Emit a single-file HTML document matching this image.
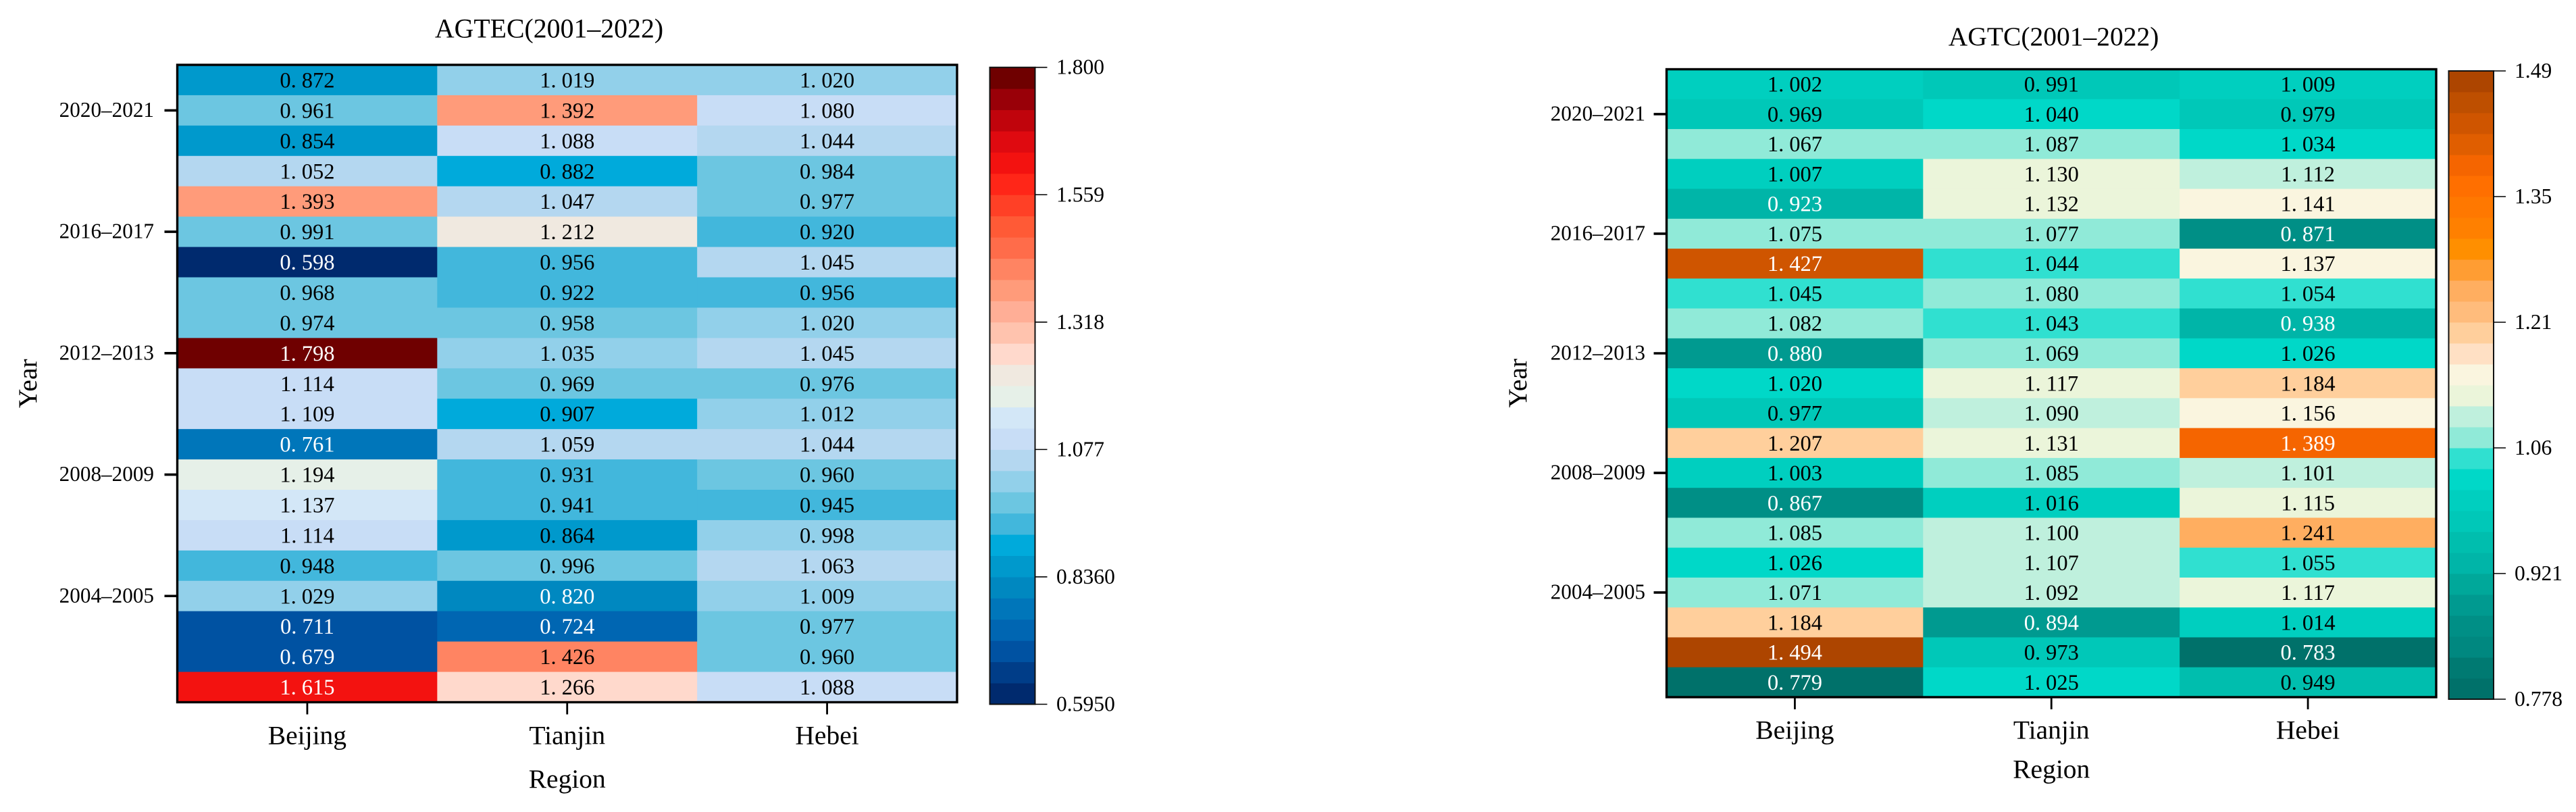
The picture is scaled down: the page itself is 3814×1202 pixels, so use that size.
<!DOCTYPE html>
<html lang="en">
<head>
<meta charset="utf-8">
<title>AGTEC and AGTC heatmaps (2001–2022)</title>
<style>
html,body{margin:0;padding:0;background:#fff;}
svg{display:block;}
text{font-family:"Liberation Serif","Times New Roman",serif;fill:#000;}
</style>
</head>
<body>
<svg id="figure" xmlns="http://www.w3.org/2000/svg" width="3814" height="1202" viewBox="0 0 3814 1202">
<rect x="0" y="0" width="3814" height="1202" fill="#ffffff"/>
</svg>
<script>
const regions = ['Beijing', 'Tianjin', 'Hebei'];
const yearRows = ['2021–2022','2020–2021','2019–2020','2018–2019','2017–2018','2016–2017','2015–2016','2014–2015','2013–2014','2012–2013','2011–2012','2010–2011','2009–2010','2008–2009','2007–2008','2006–2007','2005–2006','2004–2005','2003–2004','2002–2003','2001–2002'];

const agtecBeijing = [0.872,0.961,0.854,1.052,1.393,0.991,0.598,0.968,0.974,1.798,1.114,1.109,0.761,1.194,1.137,1.114,0.948,1.029,0.711,0.679,1.615];
const agtecTianjin = [1.019,1.392,1.088,0.882,1.047,1.212,0.956,0.922,0.958,1.035,0.969,0.907,1.059,0.931,0.941,0.864,0.996,0.820,0.724,1.426,1.266];
const agtecHebei = [1.020,1.080,1.044,0.984,0.977,0.920,1.045,0.956,1.020,1.045,0.976,1.012,1.044,0.960,0.945,0.998,1.063,1.009,0.977,0.960,1.088];

const agtcBeijing = [1.002,0.969,1.067,1.007,0.923,1.075,1.427,1.045,1.082,0.880,1.020,0.977,1.207,1.003,0.867,1.085,1.026,1.071,1.184,1.494,0.779];
const agtcTianjin = [0.991,1.040,1.087,1.130,1.132,1.077,1.044,1.080,1.043,1.069,1.117,1.090,1.131,1.085,1.016,1.100,1.107,1.092,0.894,0.973,1.025];
const agtcHebei = [1.009,0.979,1.034,1.112,1.141,0.871,1.137,1.054,0.938,1.026,1.184,1.156,1.389,1.101,1.115,1.241,1.055,1.117,1.014,0.783,0.949];

const agtecTickLabels = ['0.5950','0.8360','1.077','1.318','1.559','1.800'];
const agtcTickLabels = ['0.778','0.921','1.06','1.21','1.35','1.49'];

const agtecPalette = ['#002a6e','#003d88','#0052a2','#0066b2','#0076ba','#0088c0','#0099cc','#00aadb','#42b7dc','#6cc6e1','#92d0ea','#b4d7f0','#c8ddf6','#d3e7f7','#e6f0e8','#f0e9e0','#ffd9cc','#ffc3ae','#ffae96','#ff9b7a','#ff8462','#ff6c4a','#ff5a36','#ff4026','#ff2618','#f31210','#df0a10','#c0040c','#990008','#6f0000'];
const agtcPalette = ['#00716a','#007a72','#008880','#008f86','#009a90','#00a89a','#00b5a8','#00beae','#00c8b8','#00cfbf','#00d8c8','#30e0d0','#90ead8','#bff0dd','#ebf5da','#faf5df','#ffe0c4','#ffcf9c','#ffbc7c','#ffae60','#ff9d33','#ff8f00','#ff8000','#ff7800','#ff6f00','#f56500','#e05e00','#cf5500','#be4f00','#ad4500'];

const svg = document.getElementById('figure');
const NS = 'http://www.w3.org/2000/svg';

function make(tag, attrs, text) {
  const el = document.createElementNS(NS, tag);
  for (const k in attrs) el.setAttribute(k, attrs[k]);
  if (text !== undefined) el.textContent = text;
  svg.appendChild(el);
  return el;
}

function drawChart(c) {
  const xScale = i => c.x0 + (c.x1 - c.x0) * i / c.regions.length;
  const yScale = i => c.y0 + (c.y1 - c.y0) * i / c.rows.length;
  const bandOf = v => {
    const n = c.palette.length;
    return Math.max(0, Math.min(n - 1, Math.floor((v - c.vmin) / (c.vmax - c.vmin) * n)));
  };
  const prefix = c.id;

  // cells and annotations
  c.series.forEach((values, col) => {
    values.forEach((v, row) => {
      const rect = make('rect', {
        x: xScale(col), y: yScale(row),
        width: xScale(col + 1) - xScale(col) + 0.5,
        height: yScale(row + 1) - yScale(row) + 0.5,
        fill: c.palette[bandOf(v)]
      });
      
      
    });
  });
  c.series.forEach((values, col) => {
    values.forEach((v, row) => {
      const dark = v < c.whiteBelow || v > c.whiteAbove;
      const label = make('text', {
        x: (xScale(col) + xScale(col + 1)) / 2,
        y: (yScale(row) + yScale(row + 1)) / 2 + 11,
        'font-size': 32.5,
        'text-anchor': 'middle',
        dx: '0 0 8',
        style: 'fill:' + (dark ? '#ffffff' : '#000000')
      }, v.toFixed(3));
      
      
    });
  });

  // frame
  const frame = make('rect', {
    x: c.x0, y: c.y0, width: c.x1 - c.x0, height: c.y1 - c.y0,
    fill: 'none', stroke: '#000', 'stroke-width': 3.4
  });
  
  

  // title
  const title = make('text', {
    x: c.titleX, y: c.titleY, 'font-size': c.titleSize, 'text-anchor': 'middle'
  }, c.title);
  
  

  // y ticks every fourth row
  c.rows.forEach((name, row) => {
    if (row % 4 !== 1) return;
    const y = (yScale(row) + yScale(row + 1)) / 2;
    const tick = make('line', {
      x1: c.x0 - 19, x2: c.x0, y1: y, y2: y, stroke: '#000', 'stroke-width': 3.6
    });
    
    
    const label = make('text', {
      x: c.yLabelX, y: y + 9.5, 'font-size': 31.2, 'text-anchor': 'end'
    }, name);
    
    
  });

  // x ticks
  c.regions.forEach((name, col) => {
    const x = (xScale(col) + xScale(col + 1)) / 2;
    const tick = make('line', {
      x1: x, x2: x, y1: c.y1, y2: c.y1 + 18, stroke: '#000', 'stroke-width': 2.8
    });
    
    
    const label = make('text', {
      x: x, y: c.xLabelY, 'font-size': 39.5, 'text-anchor': 'middle'
    }, name);
    
    
  });

  // axis titles
  const xTitle = make('text', {
    x: (c.x0 + c.x1) / 2, y: c.xTitleY, 'font-size': 39.5, 'text-anchor': 'middle'
  }, 'Region');
  
  

  const yMid = (c.y0 + c.y1) / 2;
  const yTitle = make('text', {
    x: c.yTitleX, y: yMid, 'font-size': 39.5, 'text-anchor': 'middle',
    transform: 'rotate(-90 ' + c.yTitleX + ' ' + yMid + ')'
  }, 'Year');
  
  

  // colour bar
  const n = c.palette.length;
  const barY = i => c.barY1 - (c.barY1 - c.barY0) * i / n;
  c.palette.forEach((color, i) => {
    const band = make('rect', {
      x: c.barX0, y: barY(i + 1), width: c.barX1 - c.barX0, height: barY(i) - barY(i + 1) + 0.5, fill: color
    });
    
    
  });
  const barFrame = make('rect', {
    x: c.barX0, y: c.barY0, width: c.barX1 - c.barX0, height: c.barY1 - c.barY0,
    fill: 'none', stroke: '#111', 'stroke-width': 2
  });
  
  

  c.tickLabels.forEach((name, i) => {
    const y = c.barY1 - (c.barY1 - c.barY0) * i / (c.tickLabels.length - 1);
    const tick = make('line', {
      x1: c.barX1, x2: c.barX1 + 18, y1: y, y2: y, stroke: '#000', 'stroke-width': 1.6
    });
    
    
    const label = make('text', {
      x: c.barLabelX, y: y + 10, 'font-size': 31.6
    }, name);
    
    
  });
}

drawChart({
  id: 'agtec', title: 'AGTEC(2001–2022)', titleX: 813, titleY: 55.5, titleSize: 39.8,
  regions: regions, rows: yearRows,
  series: [agtecBeijing, agtecTianjin, agtecHebei],
  palette: agtecPalette, tickLabels: agtecTickLabels,
  vmin: 0.595, vmax: 1.8, whiteBelow: 0.83, whiteAbove: 1.5,
  x0: 262.5, x1: 1417, y0: 96, y1: 1039.5,
  yLabelX: 228, xLabelY: 1101.7, xTitleY: 1166, yTitleX: 54,
  barX0: 1465.5, barX1: 1532.5, barY0: 99.7, barY1: 1042.5, barLabelX: 1564
});

drawChart({
  id: 'agtc', title: 'AGTC(2001–2022)', titleX: 3040.6, titleY: 67, titleSize: 39.5,
  regions: regions, rows: yearRows,
  series: [agtcBeijing, agtcTianjin, agtcHebei],
  palette: agtcPalette, tickLabels: agtcTickLabels,
  vmin: 0.778, vmax: 1.494, whiteBelow: 0.94, whiteAbove: 1.3,
  x0: 2467.5, x1: 3607, y0: 102.5, y1: 1032,
  yLabelX: 2436, xLabelY: 1093.3, xTitleY: 1151.7, yTitleX: 2260,
  barX0: 3625.5, barX1: 3692, barY0: 105, barY1: 1035, barLabelX: 3723
});
</script>
</body>
</html>
